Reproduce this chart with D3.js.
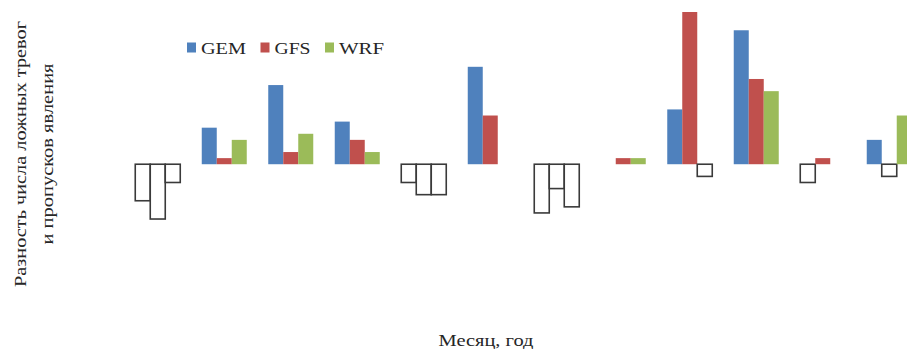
<!DOCTYPE html>
<html>
<head>
<meta charset="utf-8">
<script src="https://cdn.jsdelivr.net/npm/d3@7"></script>
<style>
  html, body { margin: 0; padding: 0; background: #fff; }
  svg { display: block; }
  text { font-family: "Liberation Serif", "Times New Roman", serif; fill: #262626; }
</style>
</head>
<body>
<svg id="chart" width="907" height="349"></svg>
<script>
// Monthly periods (order of the groups along the axis)
const categories = ["1", "2", "3", "4", "5", "6", "7", "8", "9", "10", "11", "12"];
const seriesNames = ["GEM", "GFS", "WRF"];
// Difference between false-alarm count and missed-event count, per model
const gemValues = [-6, 6, 13, 7, -3, 16, -8, 0, 9, 22, -3, 4];
const gfsValues = [-9, 1, 2, 4, -5, 8, -4, 1, 25, 14, 1, -2];
const wrfValues = [-3, 4, 5, 2, -5, 0, -7, 1, -2, 12, 0, 8];
const seriesColors = ["#4F81BD", "#C0504D", "#9BBB59"];

const yLabelLines = ["Разность  числа ложных  тревог", "и пропусков явления"];
const xLabel = "Месяц, год";

const svg = d3.select("#chart");

const valuesBySeries = [gemValues, gfsValues, wrfValues];
const rows = categories.map((c, i) => ({
  category: c,
  values: seriesNames.map((s, k) => ({ series: s, value: valuesBySeries[k][i], color: seriesColors[k] }))
}));

const x0 = d3.scaleBand()
  .domain(categories)
  .range([124.5, 922.5])
  .paddingInner(0.3233)
  .paddingOuter(0.1617);

const x1 = d3.scaleBand()
  .domain(seriesNames)
  .range([0, x0.bandwidth()]);

const y = d3.scaleLinear()
  .domain([-20, 25])
  .range([286, 12]);

const groups = svg.append("g")
  .selectAll("g")
  .data(rows)
  .join("g")
  .attr("transform", d => `translate(${x0(d.category)},0)`);

groups.selectAll("rect")
  .data(d => d.values.filter(v => v.value !== 0))
  .join("rect")
  .attr("x", d => x1(d.series))
  .attr("width", x1.bandwidth())
  .attr("y", d => y(Math.max(0, d.value)))
  .attr("height", d => Math.abs(y(d.value) - y(0)))
  .attr("fill", d => d.value < 0 ? "#ffffff" : d.color)
  .attr("stroke", d => d.value < 0 ? "#3a3a3a" : "none")
  .attr("stroke-width", 1.6);

// Legend
const legendItems = [
  { name: "GEM", x: 187, width: 45 },
  { name: "GFS", x: 260.5, width: 36 },
  { name: "WRF", x: 325, width: 45 }
];
const legend = svg.append("g");
legendItems.forEach((it, k) => {
  legend.append("rect")
    .attr("x", it.x).attr("y", 42.5)
    .attr("width", 9).attr("height", 10)
    .attr("fill", seriesColors[k]);
  legend.append("text")
    .attr("x", it.x + 14).attr("y", 53.5)
    .attr("font-size", 17)
    .attr("textLength", it.width)
    .attr("lengthAdjust", "spacingAndGlyphs")
    .text(it.name);
});

// Y axis title (two lines, rotated)
const yTitle = svg.append("text")
  .attr("transform", "translate(0,154) rotate(-90)")
  .attr("text-anchor", "middle")
  .attr("font-size", 17);
yTitle.append("tspan").attr("x", 0).attr("y", 26).attr("textLength", 266).attr("lengthAdjust", "spacingAndGlyphs").text(yLabelLines[0]);
yTitle.append("tspan").attr("x", 0).attr("y", 53).attr("textLength", 181).attr("lengthAdjust", "spacingAndGlyphs").text(yLabelLines[1]);

// X axis title
svg.append("text")
  .attr("x", 486).attr("y", 346)
  .attr("text-anchor", "middle")
  .attr("font-size", 17)
  .attr("textLength", 95)
  .attr("lengthAdjust", "spacingAndGlyphs")
  .text(xLabel);
</script>
</body>
</html>
